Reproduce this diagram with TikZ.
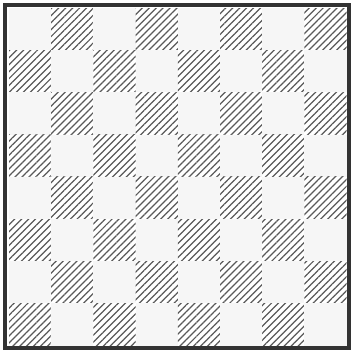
\documentclass[tikz,border=0pt]{standalone}
\usetikzlibrary{patterns.meta}
\begin{document}
\begin{tikzpicture}[x=0.02cm, y=-0.02cm,
    sq0/.style={fill=gray!7, minimum size=0.844cm, inner sep=0pt},
    sq1/.style={pattern={Lines[angle=45, distance=2.8pt, line width=0.7pt]}, pattern color=black!65,
      minimum size=0.844cm, inner sep=0pt},
    frame/.style={line width=1.8pt, black!80}
  ]
    \useasboundingbox (0,0) rectangle (353,352);
    \foreach \r in {0,...,7} {
      \foreach \c [evaluate=\c as \k using {int(mod(\r+\c,2))}] in {0,...,7} {
        \node[sq\k] (s\r\c) at (30.1+42.2*\c, 29.1+42.2*\r) {};
      }
    }
    \draw[frame] (5,5) rectangle (349,348);
  \end{tikzpicture}
\end{document}
